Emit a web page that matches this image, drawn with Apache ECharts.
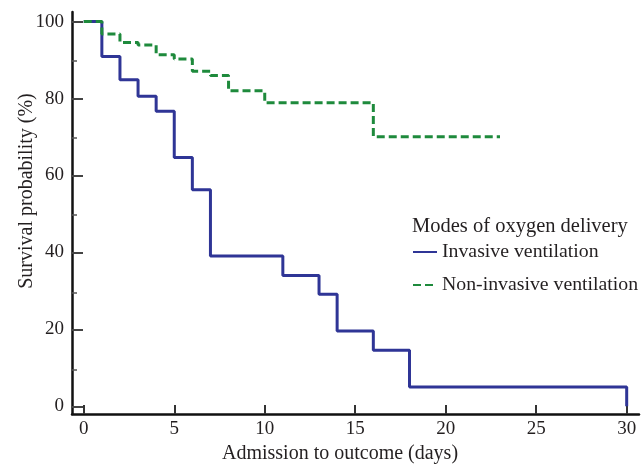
<!DOCTYPE html>
<html><head><meta charset="utf-8">
<script src="https://cdn.jsdelivr.net/npm/echarts@6/dist/echarts.min.js"></script>
<style>html,body{margin:0;padding:0;background:#fff}#c{width:644px;height:469px}</style>
</head><body><div id="c"></div>
<script>
// Data
const invasiveDays = [0, 1, 2, 3, 4, 5, 6, 7, 11, 13, 14, 16, 18, 30];
const invasiveSurv = [100, 90.9, 84.9, 80.6, 76.7, 64.7, 56.3, 39.1, 34.0, 29.1, 19.6, 14.6, 5.0, 0];
const nonInvasiveDays = [0, 1, 2, 3, 4, 5, 6, 7, 8, 10, 16, 23];
const nonInvasiveSurv = [100, 96.8, 94.6, 93.9, 91.4, 90.3, 87.1, 86.0, 82.0, 78.9, 70.1, 70.1];
const xTicks = [0, 5, 10, 15, 20, 25, 30];
const yTicks = [0, 20, 40, 60, 80, 100];
const yMinorTicks = [10, 30, 50, 70, 90];
const seriesNames = ['Invasive ventilation', 'Non-invasive ventilation'];
const legendTitle = 'Modes of oxygen delivery';
const xTitle = 'Admission to outcome (days)';
const yTitle = 'Survival probability (%)';

const FONT = '"Liberation Serif", "Times New Roman", serif';
const TXT = '#231f20';
const chart = echarts.init(document.getElementById('c'), null, {renderer: 'canvas'});
const zip = (a, b) => a.map((v, i) => [v, b[i]]);
const GRID = {left: 72, right: 5, top: 12, bottom: 53, containLabel: false};
const X_MIN = -0.65, X_MAX = 30.68, Y_MIN = -2, Y_MAX = 102.5;

chart.setOption({
  animation: false,
  backgroundColor: '#fff',
  title: {
    text: legendTitle, left: 412, top: 216, padding: 0,
    textStyle: {fontFamily: FONT, fontSize: 20.5, fontWeight: 'normal', color: TXT}
  },
  legend: {
    orient: 'vertical', left: 412, top: 242, padding: 0,
    itemWidth: 24, itemHeight: 14, itemGap: 13,
    textStyle: {fontFamily: FONT, fontSize: 19.8, color: TXT},
    itemStyle: {opacity: 0},
    data: seriesNames.map(n => ({name: n}))
  },
  grid: [GRID, Object.assign({}, GRID)],
  xAxis: [{
    type: 'value', min: X_MIN, max: X_MAX, gridIndex: 0,
    name: xTitle, nameLocation: 'middle', nameGap: 30,
    nameTextStyle: {fontFamily: FONT, fontSize: 20, color: TXT, padding: [0, 31, 0, 0]},
    axisLine: {show: true, onZero: false, lineStyle: {color: '#111', width: 2.5}},
    axisTick: {show: true, inside: true, length: 9, customValues: xTicks, lineStyle: {color: '#333', width: 2}},
    axisLabel: {customValues: xTicks, margin: 6, fontFamily: FONT, fontSize: 19, color: TXT},
    splitLine: {show: false}
  }, {
    type: 'value', min: X_MIN, max: X_MAX, gridIndex: 1, show: false,
    axisLine: {onZero: false}
  }],
  yAxis: [{
    type: 'value', min: Y_MIN, max: Y_MAX, gridIndex: 0,
    axisLine: {show: true, onZero: false, lineStyle: {color: '#111', width: 2.5}},
    axisTick: {show: true, inside: true, length: 11, customValues: yTicks, lineStyle: {color: '#444', width: 2}},
    axisLabel: {customValues: yTicks, margin: 8, fontFamily: FONT, fontSize: 19, color: TXT},
    splitLine: {show: false}
  }, {
    type: 'value', min: Y_MIN, max: Y_MAX, gridIndex: 1, position: 'left', offset: 0,
    axisLine: {show: false, onZero: false},
    axisTick: {show: true, inside: true, length: 5, customValues: yMinorTicks, lineStyle: {color: '#555', width: 1.5}},
    axisLabel: {show: false},
    splitLine: {show: false}
  }],
  graphic: [{
    type: 'text', x: 27, y: 191, rotation: Math.PI / 2,
    style: {text: yTitle, fontFamily: FONT, fontSize: 20, fill: TXT, align: 'center', verticalAlign: 'middle'}
  }],
  series: [{
    name: seriesNames[0], type: 'line', step: 'end', showSymbol: false, symbol: 'none',
    data: zip(invasiveDays, invasiveSurv),
    lineStyle: {color: '#2f3596', width: 3},
    itemStyle: {color: '#2f3596'}
  }, {
    name: seriesNames[1], type: 'line', step: 'end', showSymbol: false, symbol: 'none',
    data: zip(nonInvasiveDays, nonInvasiveSurv),
    lineStyle: {color: '#1e8a3c', width: 3, type: [8, 4]},
    itemStyle: {color: '#1e8a3c'}
  }]
});
</script></body></html>
